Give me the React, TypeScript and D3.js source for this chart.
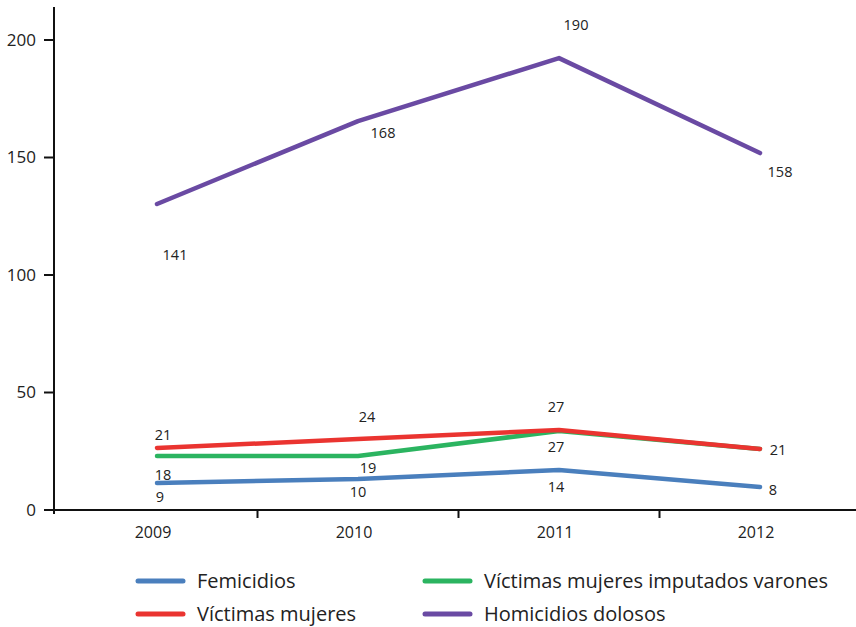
import React from "react";
import * as d3 from "d3";

const years = ["2009", "2010", "2011", "2012"];
const yTicks = [0, 50, 100, 150, 200];

// plotted values (as drawn)
const femicidios = [11.5, 13.2, 17, 9.8];
const victimasMujeres = [26.4, 30.2, 34, 26];
const victimasImputados = [23, 23, 33.6, 26];
const homicidios = [130.2, 165.5, 192.3, 151.9];

// printed labels
const femicidiosLabels = ["9", "10", "14", "8"];
const victimasMujeresLabels = ["21", "24", "27", "21"];
const victimasImputadosLabels = ["18", "19", "27", ""];
const homicidiosLabels = ["141", "168", "190", "158"];

const seriesNames = [
  "Femicidios",
  "Víctimas mujeres",
  "Víctimas mujeres imputados varones",
  "Homicidios dolosos",
];

const W = 856;
const H = 627;
const FONT = "'Open Sans', 'Noto Sans', sans-serif";

export default function App() {
  const x = d3.scalePoint<string>().domain(years).range([157, 760]);
  const y = d3.scaleLinear().domain([0, 200]).range([510, 40]);
  const step = x.step();

  const series = [
    { name: seriesNames[0], values: femicidios, labels: femicidiosLabels, color: "#4a7fbd",
      off: [[3, 14], [0, 13], [-3, 17], [13, 3]] },
    { name: seriesNames[2], values: victimasImputados, labels: victimasImputadosLabels, color: "#2bb460",
      off: [[6, 19], [10, 12], [-3, 16], [0, 0]] },
    { name: seriesNames[1], values: victimasMujeres, labels: victimasMujeresLabels, color: "#ea3430",
      off: [[6, -13], [9, -22], [-3, -23], [18, 1]] },
    { name: seriesNames[3], values: homicidios, labels: homicidiosLabels, color: "#6a4aa3",
      off: [[18, 51], [25, 12], [17, -33], [20, 19]] },
  ];

  const line = d3
    .line<number>()
    .x((_, i) => x(years[i]) as number)
    .y((d) => y(d));

  const betweenTicks = years.slice(1).map((yr) => (x(yr) as number) - step / 2);

  const legend = [
    { name: seriesNames[0], color: "#4a7fbd", lx: 138, ly: 581 },
    { name: seriesNames[2], color: "#2bb460", lx: 425, ly: 581 },
    { name: seriesNames[1], color: "#ea3430", lx: 138, ly: 614 },
    { name: seriesNames[3], color: "#6a4aa3", lx: 425, ly: 614 },
  ];

  return (
    <svg
      width={W}
      height={H}
      style={{ position: "absolute", left: 0, top: 0, background: "#fff" }}
      fontFamily={FONT}
    >
      {/* y axis */}
      <line x1={54} x2={54} y1={7} y2={514} stroke="#111" strokeWidth={2} />
      {yTicks.map((t) => (
        <g key={t}>
          <line x1={44} x2={54} y1={y(t)} y2={y(t)} stroke="#111" strokeWidth={2} />
          <text x={36} y={y(t)} dy="0.35em" textAnchor="end" fontSize={17} fill="#222">
            {t}
          </text>
        </g>
      ))}
      {/* x axis */}
      <line x1={50} x2={856} y1={510} y2={510} stroke="#111" strokeWidth={2} />
      {betweenTicks.map((tx, i) => (
        <line key={i} x1={tx} x2={tx} y1={510} y2={518} stroke="#111" strokeWidth={2} />
      ))}
      {years.map((yr) => (
        <text key={yr} x={(x(yr) as number) - 4} y={532} dy="0.35em" textAnchor="middle" fontSize={16} fill="#222">
          {yr}
        </text>
      ))}
      {/* lines */}
      {series.map((s) => (
        <path
          key={s.name}
          d={line(s.values) || ""}
          fill="none"
          stroke={s.color}
          strokeWidth={4.5}
          strokeLinecap="round"
          strokeLinejoin="round"
        />
      ))}
      {/* labels */}
      {series.map((s) =>
        s.labels.map((lab, i) =>
          lab ? (
            <text
              key={s.name + i}
              x={(x(years[i]) as number) + s.off[i][0]}
              y={y(s.values[i]) + s.off[i][1]}
              dy="0.35em"
              textAnchor="middle"
              fontSize={14.5}
              fill="#222"
            >
              {lab}
            </text>
          ) : null
        )
      )}
      {/* legend */}
      {legend.map((l) => (
        <g key={l.name}>
          <line x1={l.lx} x2={l.lx + 45} y1={l.ly} y2={l.ly} stroke={l.color} strokeWidth={5} strokeLinecap="round" />
          <text x={l.lx + 59} y={l.ly} dy="0.35em" fontSize={20} fill="#222">
            {l.name}
          </text>
        </g>
      ))}
    </svg>
  );
}
